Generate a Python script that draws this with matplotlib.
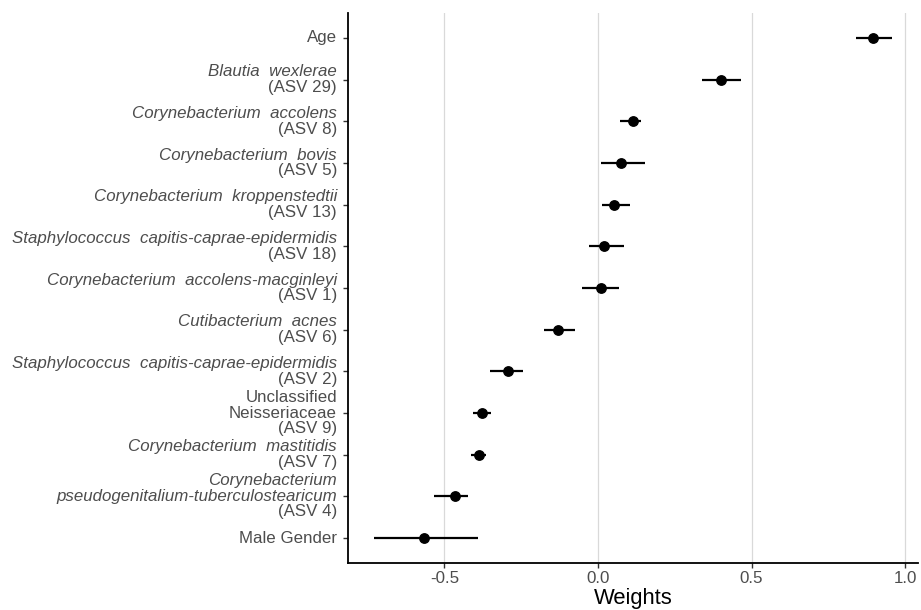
import matplotlib
matplotlib.use("Agg")
import matplotlib.pyplot as plt
import matplotlib.transforms as mtransforms

plt.rcParams['font.family'] = ['Liberation Sans', 'DejaVu Sans']

# each label: list of (line, italic)
labels = [
    [("Age", False)],
    [("Blautia  wexlerae", True), ("(ASV 29)", False)],
    [("Corynebacterium  accolens", True), ("(ASV 8)", False)],
    [("Corynebacterium  bovis", True), ("(ASV 5)", False)],
    [("Corynebacterium  kroppenstedtii", True), ("(ASV 13)", False)],
    [("Staphylococcus  capitis-caprae-epidermidis", True), ("(ASV 18)", False)],
    [("Corynebacterium  accolens-macginleyi", True), ("(ASV 1)", False)],
    [("Cutibacterium  acnes", True), ("(ASV 6)", False)],
    [("Staphylococcus  capitis-caprae-epidermidis", True), ("(ASV 2)", False)],
    [("Unclassified", False), ("Neisseriaceae", False), ("(ASV 9)", False)],
    [("Corynebacterium  mastitidis", True), ("(ASV 7)", False)],
    [("Corynebacterium", True), ("pseudogenitalium-tuberculostearicum", True), ("(ASV 4)", False)],
    [("Male Gender", False)],
]
weights = [0.896, 0.400, 0.113, 0.074, 0.052, 0.020, 0.010, -0.130, -0.293, -0.377, -0.389, -0.465, -0.567]
lower = [0.840, 0.339, 0.073, 0.010, 0.013, -0.030, -0.052, -0.176, -0.352, -0.406, -0.414, -0.533, -0.730]
upper = [0.958, 0.466, 0.140, 0.153, 0.104, 0.085, 0.068, -0.075, -0.244, -0.350, -0.364, -0.422, -0.391]

xticks = [-0.5, 0.0, 0.5, 1.0]
xticklabels = ["-0.5", "0.0", "0.5", "1.0"]

fig = plt.figure(figsize=(9.21, 6.10), dpi=100)
ax = fig.add_axes([0.3779, 0.0770, 0.6188, 0.9017])

ypos = list(range(len(weights)))

for x in xticks:
    ax.axvline(x, color='#d9d9d9', lw=0.9, zorder=0)

ax.hlines(ypos, lower, upper, color='black', lw=1.6, zorder=2)
ax.scatter(weights, ypos, s=46, color='black', zorder=3)

ax.set_xlim(-0.814, 1.042)
ax.set_ylim(len(weights) - 0.4, -0.6)

ax.set_xticks(xticks)
ax.set_xticklabels(xticklabels, fontsize=12.2, color='#4d4d4d')
ax.set_yticks(ypos)
ax.set_yticklabels([])
ax.tick_params(axis='both', length=3.5, width=1.0, color='#333333')
ax.tick_params(axis='x', pad=2.5)

for side in ['top', 'right']:
    ax.spines[side].set_visible(False)
for side in ['left', 'bottom']:
    ax.spines[side].set_linewidth(1.3)
    ax.spines[side].set_color('black')

ax.set_xlabel("Weights", fontsize=15.8, labelpad=1.5)

# y labels with mixed italic / regular lines
base = mtransforms.blended_transform_factory(ax.transAxes, ax.transData)
line_h = 15.5
for i, lab in enumerate(labels):
    n = len(lab)
    for k, (txt, ital) in enumerate(lab):
        dy = -(k - (n - 1) / 2) * line_h
        tr = mtransforms.offset_copy(base, fig=fig, x=-11, y=dy, units='dots')
        ax.text(0, i, txt, transform=tr, ha='right', va='center',
                fontsize=12.2, color='#4d4d4d',
                style='italic' if ital else 'normal')

fig.savefig("out.png", dpi=100)
